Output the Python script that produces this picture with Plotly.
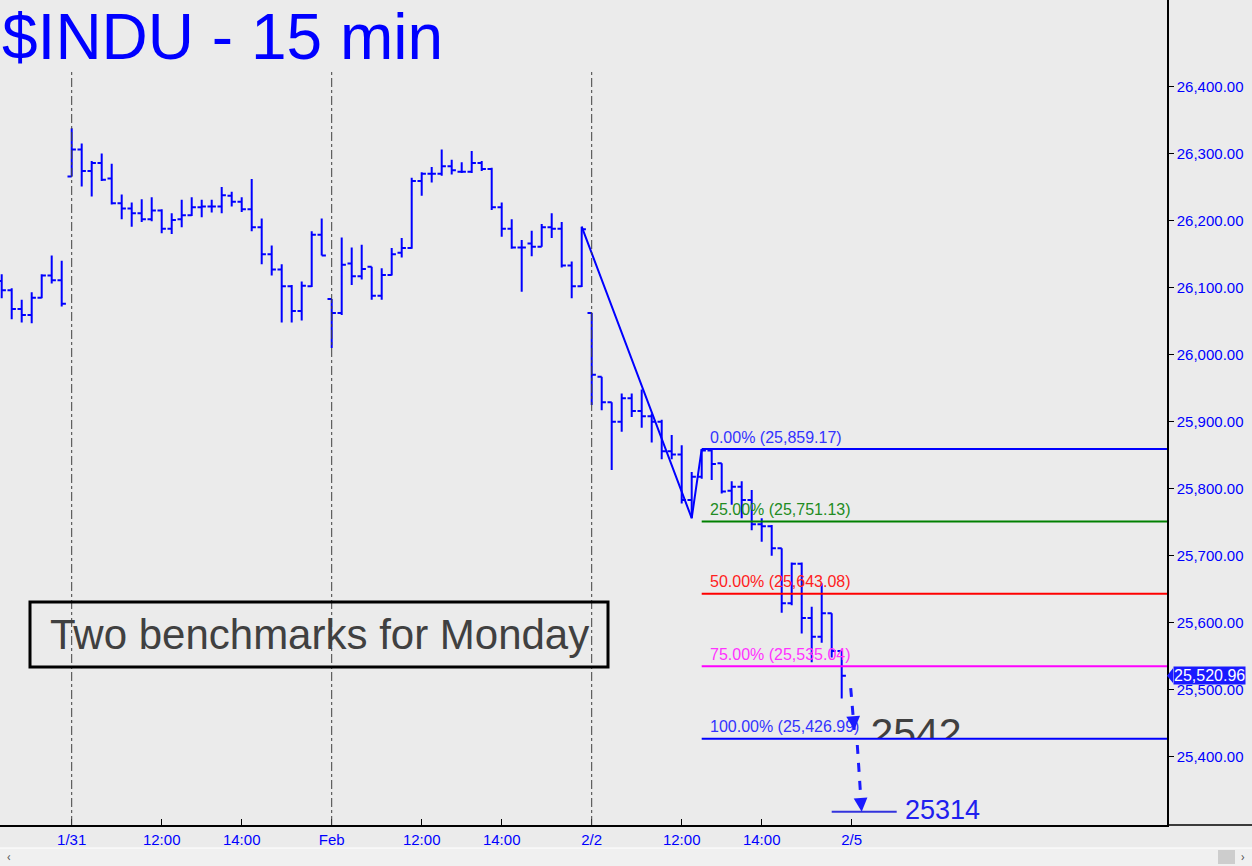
import plotly.graph_objects as go

BG = "#EBEBEB"
BLUE = "#0000FF"

# 15-minute bars, index 0 = first bar of 1/31
bar_x = list(range(-7, 78))
opens = [26110, 26096, 26068, 26059, 26085, 26118, 26111,
         26266, 26306, 26274, 26286, 26263, 26226, 26218, 26211, 26202, 26215, 26188, 26202, 26208,
         26220, 26221, 26221, 26237, 26228, 26217, 26190, 26150, 26127, 26102, 26065, 26102, 26179,
         26083, 26062, 26136, 26117, 26131, 26088, 26119, 26152, 26159, 26259, 26270, 26270, 26281,
         26273, 26273, 26286, 26277, 26220, 26188, 26160, 26166, 26161, 26190, 26188, 26133, 26102,
         26062, 25967, 25929, 25900, 25935, 25916, 25908, 25900, 25856, 25851, 25783, 25818, 25857,
         25838, 25797, 25803, 25783, 25747, 25744, 25711, 25629, 25688, 25607, 25579, 25614, 25558]
highs = [26120, 26099, 26082, 26093, 26120, 26148, 26140,
         26338, 26315, 26289, 26300, 26285, 26239, 26227, 26232, 26235, 26217, 26211, 26231, 26235,
         26231, 26231, 26250, 26243, 26235, 26262, 26203, 26163, 26135, 26104, 26109, 26184, 26203,
         26083, 26175, 26160, 26164, 26131, 26129, 26159, 26174, 26264, 26272, 26280, 26306, 26291,
         26287, 26304, 26289, 26279, 26227, 26202, 26171, 26185, 26195, 26211, 26198, 26139, 26191,
         26062, 25967, 25929, 25942, 25942, 25948, 25912, 25903, 25880, 25865, 25825, 25859.17, 25858,
         25838, 25811, 25811, 25798, 25756, 25746, 25711, 25690, 25690, 25624, 25659, 25614, 25558]
lows = [26084, 26053, 26048, 26047, 26084, 26106, 26072,
        26266, 26251, 26236, 26259, 26224, 26202, 26191, 26198, 26199, 26181, 26180, 26190, 26207,
        26205, 26212, 26211, 26221, 26213, 26184, 26135, 26118, 26048, 26048, 26051, 26101, 26148,
        26010, 26059, 26104, 26112, 26082, 26082, 26118, 26145, 26158, 26237, 26257, 26267, 26269,
        26271, 26271, 26274, 26216, 26176, 26158, 26094, 26147, 26161, 26174, 26130, 26084, 26101,
        25925, 25917, 25828, 25885, 25907, 25891, 25869, 25844, 25844, 25778, 25756, 25815, 25813,
        25793, 25776, 25756, 25738, 25721, 25700, 25615, 25626, 25584, 25541, 25570, 25548, 25487]
closes = [26096, 26068, 26059, 26085, 26118, 26111, 26076,
          26306, 26274, 26286, 26261, 26226, 26218, 26211, 26202, 26215, 26188, 26201, 26208, 26220,
          26221, 26221, 26238, 26228, 26217, 26190, 26150, 26127, 26102, 26065, 26103, 26179, 26148,
          26062, 26134, 26117, 26128, 26088, 26119, 26150, 26159, 26259, 26270, 26270, 26281, 26275,
          26273, 26286, 26277, 26220, 26188, 26160, 26160, 26161, 26190, 26188, 26133, 26102, 26187,
          25970, 25929, 25900, 25935, 25916, 25908, 25900, 25856, 25851, 25783, 25818, 25857, 25837,
          25796, 25803, 25783, 25747, 25744, 25711, 25629, 25688, 25607, 25579, 25614, 25558, 25520.96]

tick_x = [0, 9, 17, 26, 35, 43, 52, 61, 69, 78]
tick_text = ["1/31", "12:00", "14:00", "Feb", "12:00", "14:00", "2/2", "12:00", "14:00", "2/5"]
day_starts = [0, 26, 52]

price_ticks = [25400, 25500, 25600, 25700, 25800, 25900, 26000, 26100, 26200, 26300, 26400]

# swing used for the projection: high, low, rebound high
swing_idx = [51, 62, 63]
fib_pct = [0.0, 25.0, 50.0, 75.0, 100.0]
fib_levels = [25859.17, 25751.13, 25643.08, 25535.04, 25426.99]
fib_colors = ["#0000FF", "#008000", "#FF0000", "#FF00FF", "#0000FF"]
fib_text_colors = ["#3333FF", "#228B22", "#FF2020", "#FF33FF", "#3333FF"]
target = 25314
last_price = closes[-1]

x_range = [-7.17, 109.53]
y_range = [25298.2, 26529.2]

fig = go.Figure()

fig.add_trace(go.Ohlc(
    x=bar_x, open=opens, high=highs, low=lows, close=closes,
    increasing_line_color=BLUE, decreasing_line_color=BLUE,
    line_width=2, tickwidth=0.42, hoverinfo="skip",
))

# ABC swing line
swing_y = [highs[swing_idx[0] + 7], lows[swing_idx[1] + 7], highs[swing_idx[2] + 7]]
fig.add_trace(go.Scatter(x=swing_idx, y=swing_y, mode="lines",
                         line=dict(color=BLUE, width=2), hoverinfo="skip"))

# big clipped number near the 100% line
fig.add_trace(go.Scatter(x=[84.43], y=[25430], mode="text", text=["2542"],
                         textposition="middle center",
                         textfont=dict(size=41, color="#404040", family="Arial"),
                         hoverinfo="skip"))

shapes = []
# day separators
for d in day_starts:
    shapes.append(dict(type="line", xref="x", yref="paper", x0=d, x1=d, y0=0, y1=0.913,
                       line=dict(color="#404040", width=1, dash="dashdot")))

# mask hiding lower part of the "2542" text
shapes.append(dict(type="rect", xref="x", yref="y", x0=79.4, x1=90, y0=fib_levels[-1] - 40,
                   y1=fib_levels[-1], fillcolor=BG, line=dict(width=0), layer="above"))

annotations = []
for pct, lvl, col, tcol in zip(fib_pct, fib_levels, fib_colors, fib_text_colors):
    shapes.append(dict(type="line", xref="x", yref="y", x0=swing_idx[2], x1=x_range[1],
                       y0=lvl, y1=lvl, line=dict(color=col, width=2), layer="above"))
    annotations.append(dict(x=63.66, y=lvl, xref="x", yref="y", xanchor="left", yanchor="middle",
                            yshift=12, showarrow=False, text=f"{pct:.2f}% ({lvl:,.2f})",
                            font=dict(size=16, color=tcol, family="Arial")))

# dashed projection arrows
arrows = [((77.9, 25502.6), (78.26, 25440.0)), ((78.56, 25417.6), (79.0, target + 4))]
for (xa, ya), (xb, yb) in arrows:
    shapes.append(dict(type="line", xref="x", yref="y", x0=xa, y0=ya, x1=xb, y1=yb,
                       line=dict(color="#1A1AFF", width=3, dash="dash"), layer="above"))
    annotations.append(dict(x=xb, y=yb, xref="x", yref="y", ax=-1, ay=-12, text="",
                            showarrow=True, arrowhead=2, arrowsize=1.1, arrowwidth=2.5,
                            arrowcolor="#1A1AFF"))

# target line + label
shapes.append(dict(type="line", xref="x", yref="y", x0=76, x1=82.5, y0=target + 4, y1=target + 4,
                   line=dict(color="#3333DD", width=2), layer="above"))
annotations.append(dict(x=83.1, y=target + 7, xref="x", yref="y", xanchor="left", yanchor="middle",
                        showarrow=False, text=f"{target}",
                        font=dict(size=27, color="#2020EE", family="Arial")))

# comment box
shapes.append(dict(type="rect", xref="paper", yref="paper", x0=30 / 1167, x1=608 / 1167,
                   y0=(825 - 667) / 825, y1=(825 - 602) / 825, line=dict(color="black", width=3)))
annotations.append(dict(x=319 / 1167, y=(825 - 634) / 825, xref="paper", yref="paper",
                        xanchor="center", yanchor="middle",
                        showarrow=False, text="Two benchmarks for Monday",
                        font=dict(size=42, color="#404040", family="Arial")))

# title
annotations.append(dict(x=0, y=(825 - 37) / 825, xref="paper", yref="paper", xanchor="left",
                        yanchor="middle", showarrow=False, text="$INDU - 15 min",
                        font=dict(size=64, color=BLUE, family="Arial")))

# last price tag
annotations.append(dict(x=1, y=last_price, xref="paper", yref="y", xanchor="left", yanchor="middle",
                        xshift=6, showarrow=False, text=f"{last_price:,.2f}", bgcolor="#1A1AFF",
                        borderpad=0, font=dict(size=16, color="white", family="Arial")))
shapes.append(dict(type="path", xref="paper", yref="y",
                   path=f"M 1.0 {last_price} L {1173 / 1167} {last_price + 11} "
                        f"L {1173 / 1167} {last_price - 11} Z",
                   fillcolor="#1A1AFF", line=dict(width=0)))

# bottom axis line runs on under the price scale
shapes.append(dict(type="line", xref="paper", yref="paper", x0=1, x1=1252 / 1167, y0=0, y1=0,
                   line=dict(color="black", width=1.5)))

# scrollbar strip at the bottom
shapes.append(dict(type="rect", xref="paper", yref="paper", x0=0, x1=1252 / 1167,
                   y0=(825 - 866) / 825, y1=(825 - 848) / 825, fillcolor="#F0F0F0",
                   line=dict(width=0), layer="below"))
shapes.append(dict(type="line", xref="paper", yref="paper", x0=0, x1=1252 / 1167,
                   y0=(825 - 848) / 825, y1=(825 - 848) / 825, line=dict(color="white", width=1)))
shapes.append(dict(type="rect", xref="paper", yref="paper", x0=1218 / 1167, x1=1235 / 1167,
                   y0=(825 - 864) / 825, y1=(825 - 850) / 825, fillcolor="#CDCDCD",
                   line=dict(width=0)))
annotations.append(dict(x=9 / 1167, y=(825 - 856) / 825, xref="paper", yref="paper",
                        xanchor="center", yanchor="middle", borderpad=0,
                        showarrow=False, text="‹", font=dict(size=12, color="#555555")))
annotations.append(dict(x=1243 / 1167, y=(825 - 856) / 825, xref="paper", yref="paper",
                        xanchor="center", yanchor="middle", borderpad=0,
                        showarrow=False, text="›", font=dict(size=12, color="#555555")))

fig.update_layout(
    width=1252, height=866,
    margin=dict(l=0, r=85, t=0, b=41, autoexpand=False),
    paper_bgcolor=BG, plot_bgcolor=BG,
    showlegend=False,
    shapes=shapes, annotations=annotations,
    xaxis=dict(range=x_range, tickvals=tick_x, ticktext=tick_text, showgrid=False, zeroline=False,
               showline=True, linecolor="black", linewidth=1.5, ticks="inside", ticklen=6,
               tickcolor="black", rangeslider=dict(visible=False),
               tickfont=dict(size=15, color=BLUE, family="Arial")),
    yaxis=dict(range=y_range, side="right", tickvals=price_ticks,
               ticktext=[f"{v:,.2f}" for v in price_ticks], showgrid=False, zeroline=False,
               showline=True, linecolor="black", linewidth=1.5, ticks="outside", ticklen=5,
               tickcolor="black", tickfont=dict(size=15, color=BLUE, family="Arial")),
)

# drop the browser's default page margin so the figure sits at the window corner
fig.write_html("out.html", config={"displayModeBar": False},
               post_script="document.body.style.margin='0';")
